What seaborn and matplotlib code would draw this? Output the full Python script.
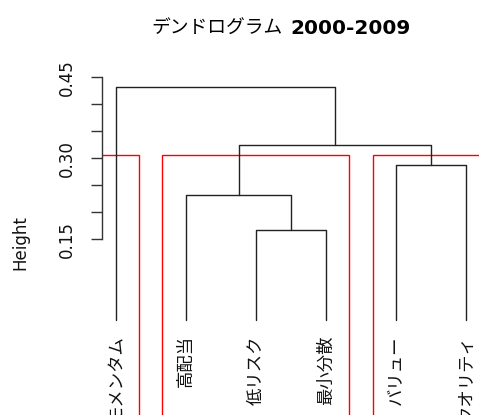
import numpy as np
import pandas as pd
import seaborn as sns
import matplotlib.pyplot as plt
from matplotlib.patches import Rectangle

# leaves in display order
labels = ['モメンタム', '高配当', '低リスク', '最小分散', 'バリュー', 'クオリティ']
# hclust style merge table: negative = leaf number, positive = earlier merge
merge_a = [-3, -2, -5, 2, -1]
merge_b = [-4, 1, -6, 3, 4]
merge_h = [0.167, 0.232, 0.287, 0.325, 0.432]
k_groups = 3
yticks = [0.15, 0.20, 0.25, 0.30, 0.35, 0.40, 0.45]
ytick_labels = ['0.15', '', '', '0.30', '', '', '0.45']

sns.set_theme(style='white')
plt.rcParams['font.family'] = ['DejaVu Sans', 'Noto Sans CJK JP']
jp = ['Noto Sans CJK JP', 'DejaVu Sans']

"Build the U shaped links"
node_x = {}
node_h = {}
for i in range(len(labels)):
    node_x[-(i + 1)] = i + 1
    node_h[-(i + 1)] = 0.0
rows = []
for m, (a, b, h) in enumerate(zip(merge_a, merge_b, merge_h)):
    xa, xb = node_x[a], node_x[b]
    for px, py in [(xa, node_h[a]), (xa, h), (xb, h), (xb, node_h[b])]:
        rows.append({'link': m, 'x': px, 'y': py})
    node_x[m + 1] = (xa + xb) / 2
    node_h[m + 1] = h
df = pd.DataFrame(rows)

"Groups for the red boxes (cut like rect.hclust)"
hs = sorted(merge_h, reverse=True)
cut = (hs[k_groups - 2] + hs[k_groups - 1]) / 2
members = {-(i + 1): [i + 1] for i in range(len(labels))}
for m, (a, b, h) in enumerate(zip(merge_a, merge_b, merge_h)):
    members[m + 1] = members[a] + members[b]
groups = []
top_nodes = [-(i + 1) for i in range(len(labels))] + [m + 1 for m in range(len(merge_h))]
for n in top_nodes:
    if n > 0 and node_h[n] >= cut:
        continue
    parent = None
    for m, (a, b) in enumerate(zip(merge_a, merge_b)):
        if a == n or b == n:
            parent = m + 1
    if parent is None or node_h[parent] >= cut:
        groups.append(members[n])
groups.sort(key=min)

fig = plt.figure(figsize=(4.79, 4.15), dpi=100)
ax = fig.add_axes([102 / 479, -0.0964, 378.5 / 479, 0.9227])

sns.lineplot(data=df, x='x', y='y', units='link', estimator=None, sort=False,
             color='#222222', lw=1.0, ax=ax, legend=False)

ylo = -0.25
for g in groups:
    x0 = min(g) - 0.34
    x1 = max(g) + 0.33
    ax.add_patch(Rectangle((x0, ylo), x1 - x0, cut - ylo, fill=False,
                           ec='red', lw=1.0))

for i, lab in enumerate(labels):
    ax.text(i + 1, -0.028, lab, rotation=90, ha='center', va='top',
            fontsize=12.5, family=jp, color='#111111')

ax.set_xlim(0.8, 6.2)
ax.set_ylim(ylo, 0.46)
ax.set_xticks([])
ax.set_xlabel('')
ax.set_ylabel('')
ax.set_yticks(yticks)
ax.set_yticklabels(ytick_labels, rotation=90, va='center')
ax.tick_params(axis='y', left=True, length=8, width=1, pad=11,
               labelsize=12, color='#333333', labelcolor='#111111')
for s in ['top', 'right', 'bottom']:
    ax.spines[s].set_visible(False)
ax.spines['left'].set_bounds(0.15, 0.45)
ax.spines['left'].set_linewidth(1)
ax.spines['left'].set_color('#333333')

fig.text(20 / 479, 1 - 243 / 415, 'Height', rotation=90, ha='center',
         va='center', fontsize=12, color='#111111')
fig.text(283 / 479, 1 - 34 / 415, 'デンドログラム', ha='right', va='baseline',
         fontsize=13.5, family=jp, color='black')
fig.text(290 / 479, 1 - 34 / 415, '2000-2009', ha='left', va='baseline',
         fontsize=14.5, fontweight='bold', family='DejaVu Sans', color='black')

fig.savefig('out.png', dpi=100)
